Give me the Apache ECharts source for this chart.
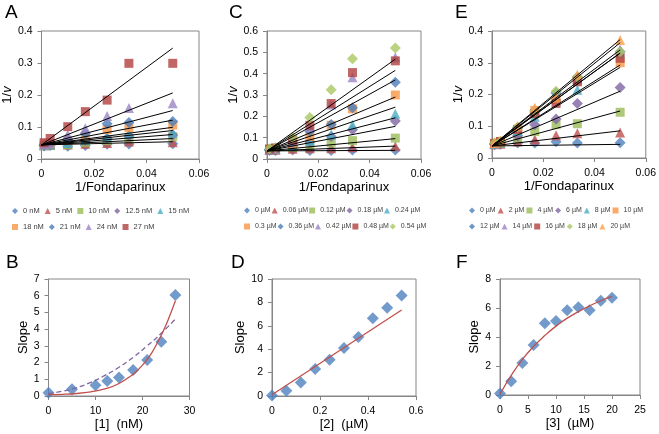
<!DOCTYPE html>
<html>
<head>
<meta charset="utf-8">
<script src="https://cdn.jsdelivr.net/npm/echarts@6/dist/echarts.min.js"></script>
<style>
  html, body { margin: 0; padding: 0; background: #fff; }
  #chart { width: 659px; height: 434px; }
</style>
</head>
<body>
<div id="chart"></div>
<script>
// x values of the double reciprocal plots (1/Fondaparinux)
var invF = [0.001, 0.0033, 0.01, 0.0167, 0.025, 0.0333, 0.05];

// panel A: [1] in nM
var concA = [0, 5, 10, 12.5, 15, 18, 21, 24, 27];
var valsA = [
    [0.041, 0.042, 0.040, 0.042, 0.046, 0.047, 0.048],
    [0.043, 0.044, 0.045, 0.048, 0.050, 0.055, 0.052],
    [0.042, 0.043, 0.045, 0.052, 0.058, 0.065, 0.070],
    [0.043, 0.046, 0.050, 0.058, 0.065, 0.072, 0.075],
    [0.043, 0.046, 0.050, 0.060, 0.068, 0.080, 0.083],
    [0.044, 0.048, 0.058, 0.072, 0.092, 0.098, 0.106],
    [0.045, 0.050, 0.062, 0.080, 0.110, 0.114, 0.117],
    [0.046, 0.050, 0.076, 0.096, 0.134, 0.159, 0.174],
    [0.051, 0.064, 0.101, 0.148, 0.184, 0.299, 0.299]
];
var slopeA = [0.2, 0.4, 0.65, 0.9, 1.1, 1.55, 2.15, 3.25, 6.05];
var interceptA = 0.044;

// panel C: [2] in uM
var concC = [0, 0.06, 0.12, 0.18, 0.24, 0.3, 0.36, 0.42, 0.48, 0.54];
var valsC = [
    [0.040, 0.040, 0.042, 0.040, 0.040, 0.042, 0.042],
    [0.042, 0.043, 0.048, 0.050, 0.050, 0.055, 0.060],
    [0.043, 0.045, 0.055, 0.066, 0.075, 0.086, 0.098],
    [0.043, 0.046, 0.060, 0.080, 0.105, 0.137, 0.178],
    [0.044, 0.047, 0.062, 0.085, 0.115, 0.160, 0.212],
    [0.045, 0.048, 0.070, 0.106, 0.158, 0.235, 0.300],
    [0.045, 0.049, 0.080, 0.130, 0.162, 0.240, 0.360],
    [0.046, 0.050, 0.085, 0.150, 0.255, 0.383, 0.477],
    [0.047, 0.052, 0.090, 0.158, 0.260, 0.405, 0.460],
    [0.048, 0.053, 0.100, 0.195, 0.325, 0.470, 0.520]
];
var slopeC = [0.05, 0.45, 1.15, 2.3, 3.1, 4.1, 5.05, 6.65, 7.55, 8.6];
var interceptC = 0.038;

// panel E: [3] in uM
var concE = [0, 2, 4, 6, 8, 10, 12, 14, 16, 18, 20];
var valsE = [
    [0.042, 0.043, 0.047, 0.047, 0.051, 0.047, 0.048],
    [0.043, 0.045, 0.052, 0.058, 0.072, 0.078, 0.080],
    [0.044, 0.046, 0.062, 0.083, 0.105, 0.108, 0.144],
    [0.044, 0.048, 0.070, 0.105, 0.123, 0.172, 0.222],
    [0.045, 0.050, 0.085, 0.130, 0.190, 0.215, 0.330],
    [0.045, 0.051, 0.090, 0.150, 0.185, 0.245, 0.300],
    [0.046, 0.051, 0.095, 0.145, 0.205, 0.255, 0.335],
    [0.046, 0.052, 0.095, 0.150, 0.190, 0.250, 0.342],
    [0.046, 0.052, 0.090, 0.140, 0.172, 0.240, 0.314],
    [0.047, 0.053, 0.098, 0.148, 0.210, 0.255, 0.335],
    [0.047, 0.053, 0.100, 0.158, 0.190, 0.262, 0.372]
];
var slopeE = [0.1, 0.95, 2.2, 3.45, 4.95, 5.1, 5.85, 6.05, 5.85, 6.5, 6.7];
var interceptE = 0.038;

var fitBx = [0, 3, 6, 9, 12, 15, 18, 19, 20, 21, 22, 23, 24, 25, 26, 27];
var fitBy = [0.08, 0.1, 0.15, 0.25, 0.42, 0.75, 1.3, 1.55, 1.85, 2.2, 2.6, 3.1, 3.65, 4.25, 4.95, 5.7];
var dashBx = [0, 3, 6, 9, 12, 15, 18, 21, 24, 27];
var dashBy = [0.15, 0.29, 0.5, 0.82, 1.23, 1.72, 2.31, 3.0, 3.75, 4.6];
var fitDx = [0, 0.54];
var fitDy = [0.1, 7.35];
var fitFx = [0, 2, 4, 6, 8, 10, 12, 14, 16, 18, 20];
var fitFy = [0.05, 1.35, 2.45, 3.35, 4.1, 4.75, 5.3, 5.75, 6.15, 6.5, 6.8];

var shapes = ['diamond', 'triangle', 'rect'];
var sizes = {diamond: 11, triangle: 10, rect: 9};
var colors = ['#4F81BD', '#C0504D', '#9BBB59', '#8064A2', '#4BACC6', '#F79646',
              '#4A7DBA', '#9B84C4', '#B0413E', '#A8C862', '#F9A04E'];
var AX = '#868686';
var FONT = 'Liberation Sans, Arial, sans-serif';

var option = {
    backgroundColor: '#fff',
    animation: false,
    textStyle: {fontFamily: FONT},
    title: [],
    grid: [],
    xAxis: [],
    yAxis: [],
    legend: [],
    series: []
};

function addPanel(letter, lx, ly, box, xMax, xInt, yMax, yInt, xName, yName) {
    var i = option.grid.length;
    option.title.push({
        text: letter, left: lx, top: ly, padding: 0,
        textStyle: {fontSize: 19, fontWeight: 'normal', color: '#000', fontFamily: FONT}
    });
    option.grid.push({
        left: box[0], top: box[1], width: box[2], height: box[3],
        show: true, borderColor: AX, borderWidth: 1, backgroundColor: '#fff'
    });
    var axisBase = {
        gridIndex: i, type: 'value', min: 0,
        splitLine: {show: false},
        axisLine: {show: true, onZero: false, lineStyle: {color: AX}},
        axisTick: {show: true, length: 4, lineStyle: {color: AX}},
        nameLocation: 'middle',
        nameTextStyle: {fontSize: 13, color: '#000', fontFamily: FONT,
                        rich: {i: {fontSize: 13, fontStyle: 'italic', color: '#000', fontFamily: FONT}}}
    };
    var lbl = function (m) {
        return {fontSize: 10.5, color: '#000', margin: m, fontFamily: FONT};
    };
    option.xAxis.push(Object.assign({}, axisBase, {max: xMax, interval: xInt, name: xName,
                                                   nameGap: 22, axisLabel: lbl(10)}));
    option.yAxis.push(Object.assign({}, axisBase, {max: yMax, interval: yInt, name: yName,
                                                   nameGap: 19, axisLabel: lbl(9)}));
    return i;
}

function addKinetics(idx, conc, unit, vals, slopes, b0) {
    var names = [];
    conc.forEach(function (c, k) {
        var name = c + ' ' + unit;
        names.push(name);
        var shape = shapes[k % 3];
        option.series.push({
            name: name, type: 'scatter', xAxisIndex: idx, yAxisIndex: idx,
            symbol: shape, symbolSize: sizes[shape],
            itemStyle: {color: colors[k]},
            data: invF.map(function (x, j) { return [x, vals[k][j]]; }),
            z: 2
        });
    });
    slopes.forEach(function (s, k) {
        option.series.push({
            name: 'fit ' + idx + '-' + k, type: 'line', xAxisIndex: idx, yAxisIndex: idx,
            symbol: 'none', silent: true, z: 3,
            lineStyle: {color: '#000', width: 1},
            data: [[0, b0], [0.05, b0 + s * 0.05]]
        });
    });
    return names;
}

function addLegendRows(left, rows, fs, gap) {
    rows.forEach(function (row, r) {
        option.legend.push({
            data: row, left: left, top: r === 0 ? 207 : 223, padding: 0,
            itemWidth: 6, itemHeight: 6, itemGap: gap,
            textStyle: {fontSize: fs, color: '#404040', fontFamily: FONT},
            selectedMode: false
        });
    });
}

function addSlopePlot(idx, xs, ys, fits) {
    option.series.push({
        name: 'slope ' + idx, type: 'scatter', xAxisIndex: idx, yAxisIndex: idx,
        symbol: 'diamond', symbolSize: 12, itemStyle: {color: '#4F81BD'},
        data: xs.map(function (x, j) { return [x, ys[j]]; }), z: 2
    });
    fits.forEach(function (f, k) {
        option.series.push({
            name: 'curve ' + idx + '-' + k, type: 'line', xAxisIndex: idx, yAxisIndex: idx,
            symbol: 'none', smooth: true, silent: true, z: 3,
            lineStyle: {color: f.color, width: 1.3, type: f.type || 'solid'},
            data: f.x.map(function (x, j) { return [x, f.y[j]]; })
        });
    });
}

// top row
var a = addPanel('A', 5, 3, [39, 31, 160, 128], 0.06, 0.02, 0.4, 0.1, '1/Fondaparinux', '1/{i|v}');
var namesA = addKinetics(a, concA, 'nM', valsA, slopeA, interceptA);
var c = addPanel('C', 229, 3, [267, 31, 154, 128], 0.06, 0.02, 0.6, 0.1, '1/Fondaparinux', '1/{i|v}');
var namesC = addKinetics(c, concC, 'µM', valsC, slopeC, interceptC);
var e = addPanel('E', 455, 3, [492, 31, 157, 127], 0.06, 0.02, 0.4, 0.1, '1/Fondaparinux', '1/{i|v}');
var namesE = addKinetics(e, concE, 'µM', valsE, slopeE, interceptE);

addLegendRows(12, [namesA.slice(0, 5), namesA.slice(5)], 7.5, 5);
addLegendRows(244, [namesC.slice(0, 5), namesC.slice(5)], 7, 1);
addLegendRows(469, [namesE.slice(0, 6), namesE.slice(6)], 7, 2);

// bottom row
var b = addPanel('B', 6, 253, [48.5, 279, 141, 117], 30, 10, 7, 1, '[1]  (nM)', 'Slope');
addSlopePlot(b, concA, slopeA, [
    {x: dashBx, y: dashBy, color: '#8064A2', type: [5, 3]},
    {x: fitBx, y: fitBy, color: '#C0504D'}
]);
var d = addPanel('D', 231, 253, [272, 279, 144, 117], 0.6, 0.2, 10, 2, '[2]  (µM)', 'Slope');
addSlopePlot(d, concC, slopeC, [{x: fitDx, y: fitDy, color: '#C0504D'}]);
var f = addPanel('F', 456, 253, [500, 279, 140, 116], 25, 5, 8, 2, '[3]  (µM)', 'Slope');
addSlopePlot(f, concE, slopeE, [{x: fitFx, y: fitFy, color: '#C0504D'}]);

var myChart = echarts.init(document.getElementById('chart'), null, {renderer: 'canvas'});
myChart.setOption(option);
</script>
</body>
</html>
